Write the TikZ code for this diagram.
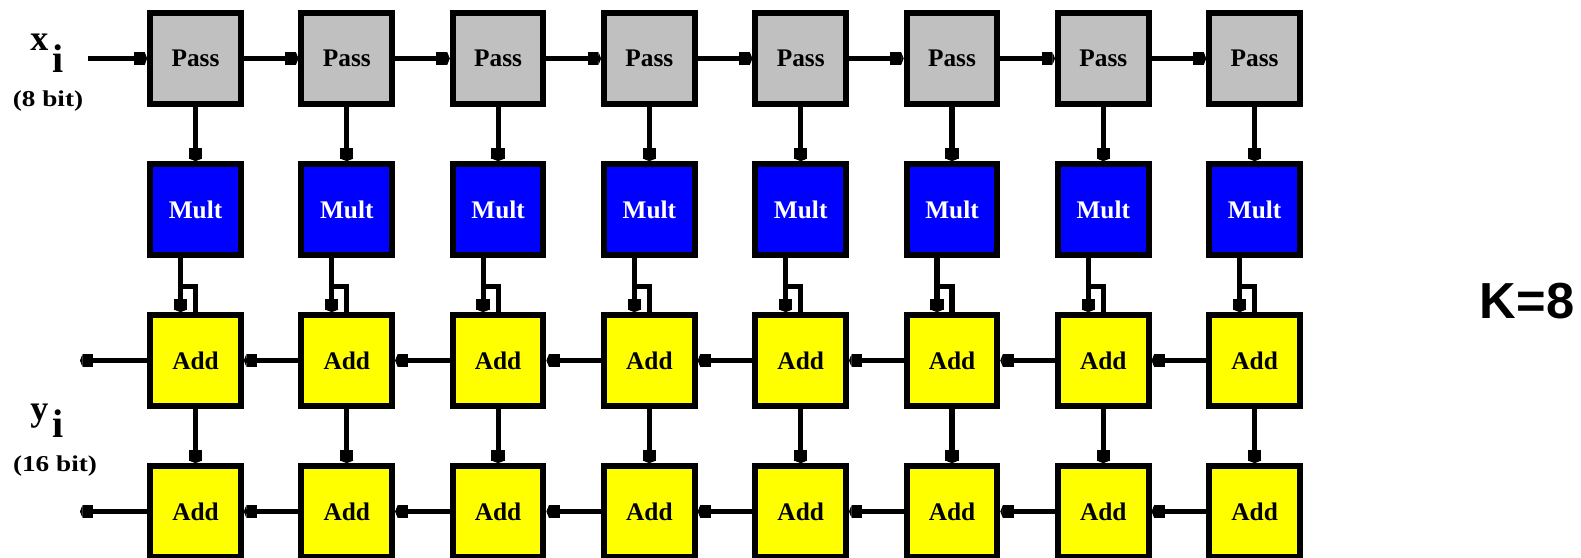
\documentclass[tikz,border=0pt]{standalone}
\usepackage{fontspec}
\setmainfont{Liberation Serif}
\newfontfamily\kfont{Liberation Sans}
\usetikzlibrary{arrows.meta,calc}
\definecolor{passgray}{RGB}{192,192,192}
\definecolor{multblue}{RGB}{0,0,255}
\definecolor{addyellow}{RGB}{255,255,0}
\tikzset{
  box/.style={draw, line width=4.5pt, minimum size=68pt, inner sep=0pt,
    font=\fontsize{19}{19}\selectfont\bfseries},
  passbox/.style={box, fill=passgray},
  multbox/.style={box, fill=multblue, text=white},
  addbox/.style={box, fill=addyellow},
  wire/.style={line width=3.8pt, -{Square[length=8pt,width=10pt]Triangle[length=2pt,width=10pt]}},
  wireline/.style={line width=3.8pt},
  lbl/.style={inner sep=0pt, font=\fontsize{17}{17}\selectfont\bfseries}
}
\begin{document}
\begin{tikzpicture}[x=0.75pt,y=0.75pt,yscale=-1,xscale=1]
\useasboundingbox (0,0) rectangle (1581,557);
% cells
\foreach \i in {1,...,8} {
  \pgfmathsetmacro{\cx}{195.5+151.3*(\i-1)}
  \node[passbox] (p\i) at (\cx,58.5) {Pass};
  \node[multbox] (m\i) at (\cx,209.5) {Mult};
  \node[addbox] (a\i) at (\cx,360.5) {Add};
  \node[addbox] (b\i) at (\cx,511.5) {Add};
}
% vertical connectors
\foreach \i in {1,...,8} {
  \draw[wire] (p\i.south) -- (m\i.north);
  \draw[wire] ($(m\i.south)+(-15,0)$) -- ($(a\i.north)+(-15,0)$);
  \draw[wireline] ($(m\i.south)+(-15,29)$) -| ($(a\i.north)+(0,0)$);
  \draw[wire] (a\i.south) -- (b\i.north);
}
% horizontal connectors
\foreach \i [evaluate=\i as \j using int(\i+1)] in {1,...,7} {
  \draw[wire] (p\i.east) -- (p\j.west);
  \draw[wire] (a\j.west) -- (a\i.east);
  \draw[wire] (b\j.west) -- (b\i.east);
}
% inputs and outputs
\coordinate (xin) at (88,58.5);
\coordinate (yout) at (80,360.5);
\coordinate (yout2) at (80,511.5);
\draw[wire] (xin) -- (p1.west);
\draw[wire] (a1.west) -- (yout);
\draw[wire] (b1.west) -- (yout2);
% labels
\node[lbl, anchor=base west] (xname) at (30,50)
  {{\fontsize{27}{27}\selectfont x}\hspace{3pt}\raisebox{-17pt}{\fontsize{30}{30}\selectfont i}};
\node[lbl] (xbits) at (48,101) {\scalebox{1.2}[1]{(8 bit)}};
\node[lbl, anchor=base west] (yname) at (30,420)
  {{\fontsize{27}{27}\selectfont y}\hspace{3pt}\raisebox{-12.75pt}{\fontsize{30}{30}\selectfont i}};
\node[lbl] (ybits) at (55,466) {\scalebox{1.2}[1]{(16 bit)}};
\node[font=\kfont\fontsize{38}{38}\selectfont\bfseries] (kval) at (1527,301) {K=8};
\end{tikzpicture}
\end{document}
